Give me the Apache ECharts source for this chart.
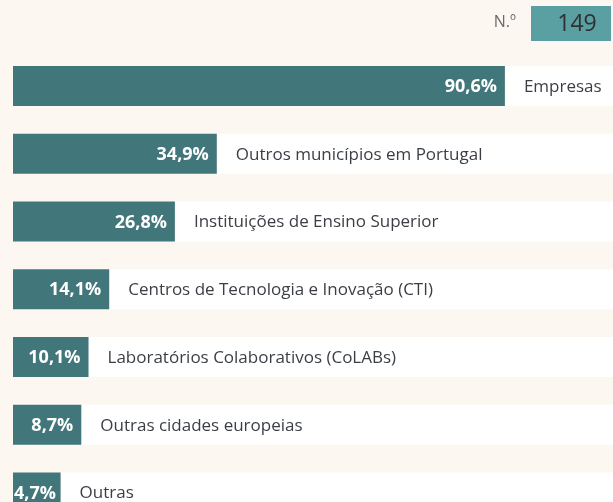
<!DOCTYPE html>
<html>
<head>
<meta charset="utf-8">
<script src="https://cdn.jsdelivr.net/npm/echarts@6/dist/echarts.min.js"></script>
<style>
  html, body { margin: 0; padding: 0; background: #fdf7f1; }
  #main { width: 613px; height: 502px; }
</style>
</head>
<body>
<div id="main"></div>
<script>
// dados
var categorias = [
    'Empresas',
    'Outros municípios em Portugal',
    'Instituições de Ensino Superior',
    'Centros de Tecnologia e Inovação (CTI)',
    'Laboratórios Colaborativos (CoLABs)',
    'Outras cidades europeias',
    'Outras'
];
var percentagens = [90.6, 34.9, 26.8, 14.1, 10.1, 8.7, 4.7];
var total = 149;
var totalLabel = 'N.º';

// escala do eixo (as barras partem de xMin)
var xMin = -4.5;
var xMax = 111.5;

var valorFont = 'bold 18px "Open Sans"';
var ctx = document.createElement('canvas').getContext('2d');
ctx.font = valorFont;

var myChart = echarts.init(document.getElementById('main'));

var dados = [];
for (var i = 0; i < percentagens.length; i++) {
    dados.push([percentagens[i], i]);
}

function renderItem(params, api) {
    var v = api.value(0);
    var idx = api.value(1);
    var start = api.coord([xMin, idx]);
    var end = api.coord([v, idx]);
    var right = api.coord([xMax, idx]);
    var h = 40;
    var y0 = start[1] - h / 2;
    var txt = v.toFixed(1).replace('.', ',') + '%';
    var largura = end[0] - start[0];
    // afastamento do rótulo: 8px, menos se a barra for curta
    var pad = Math.max(0, Math.min(8, largura - ctx.measureText(txt).width - 1));
    return {
        type: 'group',
        children: [
            {
                type: 'rect',
                shape: { x: end[0], y: y0, width: right[0] - end[0] + 2, height: h },
                style: { fill: '#ffffff' }
            },
            {
                type: 'rect',
                shape: { x: start[0], y: y0, width: largura, height: h },
                style: { fill: '#41767a' }
            },
            {
                type: 'text',
                x: end[0] - pad,
                y: start[1] + 1,
                style: {
                    text: txt,
                    fill: '#ffffff',
                    font: valorFont,
                    align: 'right',
                    verticalAlign: 'middle'
                }
            },
            {
                type: 'text',
                x: end[0] + 19,
                y: start[1] + 1,
                style: {
                    text: categorias[idx],
                    fill: '#3b3f45',
                    font: '17px "Open Sans"',
                    align: 'left',
                    verticalAlign: 'middle'
                }
            }
        ]
    };
}

var option = {
    backgroundColor: '#fdf7f1',
    animation: false,
    grid: { left: 13, right: 0, top: 52, bottom: 0 },
    xAxis: {
        type: 'value',
        min: xMin,
        max: xMax,
        show: false
    },
    // posição das linhas: índice da categoria numa escala contínua (última linha cortada)
    yAxis: {
        type: 'value',
        min: -0.5,
        max: 6.14,
        inverse: true,
        show: false
    },
    graphic: [
        {
            type: 'rect',
            shape: { x: 531, y: 6, width: 80, height: 35 },
            style: { fill: '#5a9fa2' }
        },
        {
            type: 'text',
            x: 577,
            y: 24,
            style: {
                text: String(total),
                fill: '#2e3035',
                font: '23px "Open Sans"',
                align: 'center',
                verticalAlign: 'middle'
            }
        },
        {
            type: 'text',
            x: 516,
            y: 22,
            style: {
                text: totalLabel,
                fill: '#6a6a6a',
                font: '16px "Open Sans"',
                align: 'right',
                verticalAlign: 'middle'
            }
        }
    ],
    series: [{
        type: 'custom',
        renderItem: renderItem,
        encode: { x: 0, y: 1 },
        clip: false,
        data: dados
    }]
};
myChart.setOption(option);
</script>
</body>
</html>
